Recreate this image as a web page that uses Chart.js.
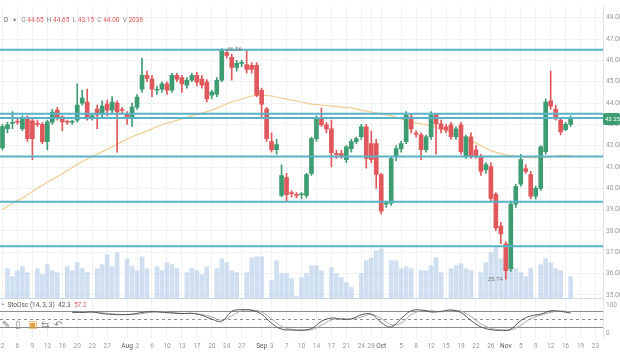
<!DOCTYPE html>
<html>
<head>
<meta charset="utf-8">
<script src="https://cdn.jsdelivr.net/npm/chart.js@4.4.0/dist/chart.umd.min.js"></script>
<style>
  html, body { margin: 0; padding: 0; background: #fff; }
  #wrap { width: 620px; height: 364px; position: relative; }
</style>
</head>
<body>
<div id="wrap"><canvas id="chart"></canvas></div>
<script>
'use strict';

// daily candles, one entry per session
const opens = [41.90,42.80,43.05,43.12,42.80,43.30,43.17,43.05,43.00,42.19,
  43.10,43.67,43.35,43.12,43.10,43.20,44.00,44.05,43.35,43.72,
  43.49,43.95,43.67,44.00,43.67,43.49,43.35,43.81,44.65,45.30,
  45.12,44.60,44.65,44.90,44.60,45.30,45.20,44.84,45.07,45.30,
  45.12,44.98,44.37,44.42,45.07,46.37,46.14,45.67,45.86,45.81,
  45.77,45.77,44.60,43.72,42.19,41.81,39.67,40.51,39.77,39.72,
  39.70,39.67,40.70,42.33,43.26,42.98,42.79,41.60,41.63,41.35,
  41.86,42.19,42.42,42.88,42.10,42.10,40.65,39.26,39.30,41.49,
  41.86,42.19,43.35,42.58,42.51,41.81,42.42,43.44,43.02,42.88,
  42.98,42.42,42.98,41.49,42.42,41.81,41.49,40.88,41.02,39.72,
  38.23,37.40,36.23,39.26,40.19,40.93,40.65,39.63,40.00,41.72,
  44.10,43.70,43.20,42.75,43.00];
const highs = [43.00,43.10,43.60,43.30,43.40,43.40,43.30,43.20,43.10,43.20,
  43.70,43.80,43.40,43.20,43.20,44.90,44.60,44.65,43.50,43.90,
  44.10,44.14,44.30,44.10,43.80,43.60,44.00,44.40,46.10,45.50,
  45.30,44.80,45.00,45.00,45.40,45.40,45.30,45.20,45.40,45.44,
  45.30,45.10,44.60,45.20,46.56,46.50,46.30,46.00,46.00,46.50,
  45.90,45.90,44.70,43.80,42.60,42.30,41.10,40.70,39.90,39.80,
  39.80,40.70,42.40,43.40,43.77,43.10,43.20,41.80,41.80,42.00,
  42.30,42.40,43.00,43.00,42.70,42.30,40.70,39.40,41.50,42.00,
  42.20,43.60,43.50,42.70,42.60,42.50,43.60,43.50,43.20,43.00,
  43.10,42.90,43.10,42.50,42.60,42.00,41.60,41.20,41.20,39.80,
  38.40,37.50,39.40,40.20,41.60,41.10,40.80,40.10,42.00,44.20,
  45.50,43.90,43.30,43.10,43.40];
const lows = [41.80,42.60,42.80,43.00,42.70,42.20,41.35,42.90,42.10,41.80,
  43.00,43.20,42.70,43.00,43.00,43.10,43.90,43.20,43.20,42.80,
  43.30,43.40,43.50,41.70,43.50,43.00,42.90,43.70,44.50,45.00,
  44.30,44.40,44.50,44.40,44.50,45.00,44.50,44.70,45.00,44.80,
  44.70,44.05,44.20,44.30,45.00,46.10,45.07,45.50,45.70,45.40,
  45.40,44.30,43.30,42.20,41.70,41.60,39.60,39.40,39.60,39.55,
  39.50,39.55,40.60,42.20,42.90,42.60,41.00,41.40,41.40,41.20,
  41.70,42.10,42.30,40.95,41.20,40.00,38.80,39.10,39.20,41.30,
  41.70,42.10,42.60,42.40,41.35,41.70,42.30,41.60,42.60,42.60,
  42.30,42.30,41.60,41.40,41.40,41.40,40.60,40.70,39.40,38.00,
  37.40,35.74,36.10,39.10,40.10,40.70,39.50,39.50,39.90,41.60,
  43.70,43.20,42.50,42.70,42.90];
const closes = [42.90,42.98,43.10,43.10,43.30,42.33,42.33,43.00,42.19,43.12,
  43.58,43.35,43.12,43.10,43.12,43.90,44.23,43.30,43.35,43.44,
  43.86,43.67,44.05,43.58,43.65,43.35,43.81,44.28,45.30,45.16,
  44.65,44.60,44.90,44.60,45.30,45.12,44.90,45.07,45.30,44.98,
  44.84,44.19,44.51,45.07,46.46,46.23,45.67,45.86,45.88,45.58,
  45.58,44.37,43.95,42.33,41.81,42.05,40.60,39.70,39.75,39.67,
  39.72,40.65,42.33,43.26,42.98,42.79,41.67,41.58,41.53,41.95,
  42.19,42.33,42.88,41.40,41.35,40.65,38.93,39.30,41.40,41.86,
  42.10,43.44,42.79,42.54,41.81,42.42,43.44,43.02,42.79,42.74,
  42.42,42.79,41.72,42.42,41.49,41.49,40.79,41.12,39.53,38.14,
  37.86,36.14,39.26,40.09,41.35,40.79,39.63,40.00,41.95,44.05,
  43.85,43.26,42.65,43.00,43.25];
const volumes = [0,1800,1320,1680,1920,1560,0,1800,1440,2040,
  1680,1560,0,1920,1680,2160,1800,1560,0,1800,
  2040,2640,1920,2760,0,2400,1920,1680,2520,1800,
  0,1920,1680,2160,2040,1800,0,1560,1800,1680,
  1440,1920,0,1800,2400,2160,1680,1560,0,1560,
  2460,2520,2520,0,1080,2280,1500,1500,1200,120,
  1260,1500,1980,1980,1680,0,1860,1500,1260,960,
  660,0,1500,2280,2460,2880,3000,0,2280,2280,
  1800,1920,1800,0,1680,1680,1980,2460,1560,0,
  1800,1980,2100,1800,1680,0,1560,2160,2760,3120,
  2400,2640,2040,1800,1560,1320,1800,0,2040,2400,
  2160,1800,1680,0,1320];
const maValues = [39.00,null,39.30,null,39.55,null,39.85,null,40.14,null,
  40.42,null,40.70,null,40.98,null,41.26,null,41.49,null,
  41.72,null,41.95,null,42.19,null,42.42,null,42.60,null,
  42.79,null,42.98,null,43.12,null,43.26,null,43.40,null,
  43.53,null,43.67,null,43.86,null,44.05,null,44.19,null,
  44.33,null,44.37,null,44.33,null,44.23,null,44.14,null,
  44.05,null,43.95,null,43.91,null,43.86,null,43.81,null,
  43.77,null,43.67,null,43.58,null,43.49,null,43.40,null,
  43.26,null,43.12,null,43.02,null,42.93,null,42.79,null,
  42.65,null,42.47,null,42.23,null,42.00,null,41.77,null,
  41.63,null,41.53,null,41.49,null,41.44,null,41.44,null,
  41.49,null,41.53,null,41.53];
const stochK = [null,null,null,null,null,null,null,null,null,null,
  null,null,null,null,75,null,74,null,76,null,
  70,null,67,null,66,null,68,null,74,null,
  77,null,75,null,72,null,70,null,71,null,
  64,null,50,null,42,null,78,null,84,null,
  82,null,68,null,35,null,14,null,11,null,
  10,null,16,null,42,null,54,null,50,null,
  51,null,66,null,68,null,38,null,22,null,
  52,null,80,null,83,null,76,null,78,null,
  83,null,74,null,45,null,22,null,12,null,
  10,null,14,null,45,null,62,null,68,null,
  80,null,78,null,72];
const stochD = [null,null,null,null,null,null,null,null,null,null,
  null,null,null,null,73,null,75,null,75,null,
  73,null,69,null,67,null,67,null,70,null,
  75,null,76,null,74,null,71,null,70,null,
  67,null,58,null,46,null,62,null,80,null,
  83,null,76,null,50,null,24,null,13,null,
  11,null,12,null,28,null,47,null,52,null,
  50,null,58,null,67,null,52,null,30,null,
  36,null,66,null,80,null,80,null,77,null,
  80,null,79,null,60,null,33,null,17,null,
  11,null,11,null,28,null,52,null,64,null,
  74,null,79,null,76];

// horizontal support / resistance drawings
const levels = [46.50, 43.50, 43.30, 41.49, 39.37, 37.28];
const stochLevels = [80, 50, 20];

// x axis labels, placed on the session index
const tickAt = [0,3,6,9,12,15,18,21,25,27,30,33,36,39,42,45,48,52,54,57,60,63,66,69,72,74,76,80,83,86,89,92,95,98,101,104,107,110,113,116,119];
const tickText = ['2','6','9','13','16','20','23','27','Aug','3','6','10','13','17','20','24','27','Sep','3','7','10','14','17','21','24','28','Oct','5','8','12','15','19','22','26','Nov','5','9','12','16','19','23'];

// header / legend text as printed on the chart
const headerParts = [['D', '#666'], ['   \u25BE   ', '#888'],
  ['O ', '#888'], ['44.65  ', '#e0585b'], ['H ', '#888'], ['44.65  ', '#e0585b'],
  ['L ', '#888'], ['43.15  ', '#e0585b'], ['C ', '#888'], ['44.00  ', '#e0585b'],
  ['V ', '#888'], ['2036', '#e0585b']];
const stochLegend = [['\u2022  StoOsc (14, 3, 3)  ', '#555'], ['42.3  ', '#555'], ['57.2', '#e0585b']];
const toolIcons = [['\u270E', '#888'], ['\u25AF', '#888'], ['\u25A3', '#e0a040'], ['\u21C6', '#888'], ['\u21B6', '#888']];

const SLOTS = 121;
const categories = Array.from({length: SLOTS}, (_, i) => 'd' + i);
const tickLabels = categories.map(() => '');
tickAt.forEach((idx, k) => { tickLabels[idx] = tickText[k]; });
const months = ['Aug', 'Sep', 'Oct', 'Nov'];

const GREEN = '#3d9c72';
const RED = '#e0585b';
const FONT = 'Roboto, "DejaVu Sans", sans-serif';
const candleColors = opens.map((o, i) => closes[i] >= o ? GREEN : RED);

const overlay = {
  id: 'overlay',
  beforeDatasetsDraw(chart) {
    const {ctx, chartArea, scales} = chart;
    const ys = scales.ys;
    ctx.save();
    // pane separator
    ctx.strokeStyle = '#dcdcdc';
    ctx.lineWidth = 1;
    ctx.beginPath();
    ctx.moveTo(0, Math.round(ys.top) + 0.5);
    ctx.lineTo(chartArea.right, Math.round(ys.top) + 0.5);
    ctx.stroke();
    // stochastic guide lines
    stochLevels.forEach(v => {
      const py = Math.round(ys.getPixelForValue(v)) + 0.5;
      ctx.strokeStyle = '#8d8d8d';
      ctx.setLineDash(v === 50 ? [3, 3] : []);
      ctx.beginPath();
      ctx.moveTo(0, py);
      ctx.lineTo(chartArea.right, py);
      ctx.stroke();
    });
    ctx.restore();
  },
  afterDatasetsDraw(chart) {
    const {ctx, chartArea, scales} = chart;
    const x = scales.x, y = scales.y, ys = scales.ys;
    ctx.save();
    levels.forEach(v => {
      const py = y.getPixelForValue(v);
      ctx.strokeStyle = '#59b2c6';
      ctx.lineWidth = 2;
      ctx.beginPath();
      ctx.moveTo(0, py);
      ctx.lineTo(chartArea.right, py);
      ctx.stroke();
    });

    // high / low markers
    ctx.font = '6px ' + FONT;
    ctx.fillStyle = '#777';
    ctx.textBaseline = 'middle';
    ctx.textAlign = 'left';
    const hi = highs.indexOf(Math.max(...highs));
    ctx.fillText(highs[hi].toFixed(2), x.getPixelForValue(hi) + 5, y.getPixelForValue(highs[hi]) + 1);
    const lo = lows.indexOf(Math.min(...lows));
    ctx.textAlign = 'right';
    ctx.fillText(lows[lo].toFixed(2), x.getPixelForValue(lo) - 3, y.getPixelForValue(lows[lo]));

    // header
    ctx.textAlign = 'left';
    ctx.font = '6.5px ' + FONT;
    let px = 4;
    headerParts.forEach(([t, c]) => {
      ctx.fillStyle = c;
      ctx.fillText(t, px, 20);
      px += ctx.measureText(t).width;
    });

    // stochastic legend and its tool row
    px = 2;
    stochLegend.forEach(([t, c]) => {
      ctx.fillStyle = c;
      ctx.fillText(t, px, ys.top + 7);
      px += ctx.measureText(t).width;
    });
    ctx.font = '10px "DejaVu Sans"';
    px = 2;
    toolIcons.forEach(([t, c]) => {
      ctx.fillStyle = c;
      ctx.fillText(t, px, ys.top + 27);
      px += 13;
    });

    // last price badge
    const last = closes.length - 1;
    const lp = y.getPixelForValue(closes[last]);
    ctx.fillStyle = GREEN;
    ctx.beginPath();
    ctx.roundRect(chartArea.right, lp - 6, 17, 12, 2);
    ctx.fill();
    ctx.fillStyle = '#fff';
    ctx.font = '6px ' + FONT;
    ctx.fillText(closes[last].toFixed(2), chartArea.right + 2, lp);
    ctx.restore();
  }
};

new Chart(document.getElementById('chart'), {
  type: 'bar',
  data: {
    labels: categories,
    datasets: [
      { type: 'bar', data: opens.map((o, i) => [o, closes[i]]), backgroundColor: candleColors,
        barThickness: 4, grouped: false, minBarLength: 1, yAxisID: 'y', order: 0 },
      { type: 'bar', data: lows.map((l, i) => [l, highs[i]]), backgroundColor: candleColors,
        barThickness: 1, grouped: false, yAxisID: 'y', order: 1 },
      { type: 'line', data: maValues, borderColor: '#f1cc93', borderWidth: 1.2, pointRadius: 0,
        spanGaps: true, tension: 0.4, yAxisID: 'y', order: 2 },
      { type: 'bar', data: volumes, backgroundColor: 'rgba(176,203,232,0.6)',
        barThickness: 4, grouped: false, yAxisID: 'yv', order: 5 },
      { type: 'line', data: stochK, borderColor: '#555', borderWidth: 1, pointRadius: 0,
        spanGaps: true, tension: 0.4, yAxisID: 'ys', order: 3 },
      { type: 'line', data: stochD, borderColor: '#a8a8a8', borderWidth: 1, pointRadius: 0,
        spanGaps: true, tension: 0.4, yAxisID: 'ys', order: 4 }
    ]
  },
  options: {
    responsive: true,
    maintainAspectRatio: false,
    animation: false,
    devicePixelRatio: 1,
    events: [],
    layout: { autoPadding: false, padding: { top: 4, left: 0, right: 0, bottom: 0 } },
    plugins: { legend: { display: false }, tooltip: { enabled: false } },
    scales: {
      x: {
        type: 'category',
        offset: true,
        grid: {
          offset: false,
          drawTicks: true,
          tickLength: 4,
          tickColor: 'rgba(0,0,0,0)',
          color: ctx => (ctx.tick && tickLabels[ctx.index]) ? '#f0f1f3' : 'rgba(0,0,0,0)'
        },
        border: { display: false },
        ticks: {
          autoSkip: false,
          maxRotation: 0,
          padding: 0,
          font: { size: 6.5, family: FONT },
          color: ctx => months.includes(tickLabels[ctx.index]) ? '#555' : '#999',
          callback: (v, i) => tickLabels[i]
        },
        afterFit: s => { s.height = 26; }
      },
      y: {
        position: 'right',
        stack: 'pane',
        stackWeight: 294,
        min: 34.84,
        max: 48.51,
        ticks: {
          stepSize: 1,
          includeBounds: false,
          padding: 3,
          font: { size: 6.5, family: FONT },
          color: '#999',
          callback: v => v.toFixed(2)
        },
        grid: { color: '#f1f2f4', drawTicks: false },
        border: { color: '#e3e3e3' },
        afterFit: s => { s.width = 17; }
      },
      ys: {
        position: 'right',
        stack: 'pane',
        stackWeight: 40,
        min: -18,
        max: 125,
        afterBuildTicks: s => { s.ticks = [{ value: 0 }, { value: 100 }]; },
        ticks: {
          padding: 3,
          font: { size: 6.5, family: FONT },
          color: '#999',
          callback: v => String(v)
        },
        grid: { display: false, drawTicks: false },
        border: { color: '#e3e3e3' },
        afterFit: s => { s.width = 17; }
      },
      yv: {
        position: 'right',
        display: false,
        min: -2400,
        max: 17640
      }
    }
  },
  plugins: [overlay]
});
</script>
</body>
</html>
